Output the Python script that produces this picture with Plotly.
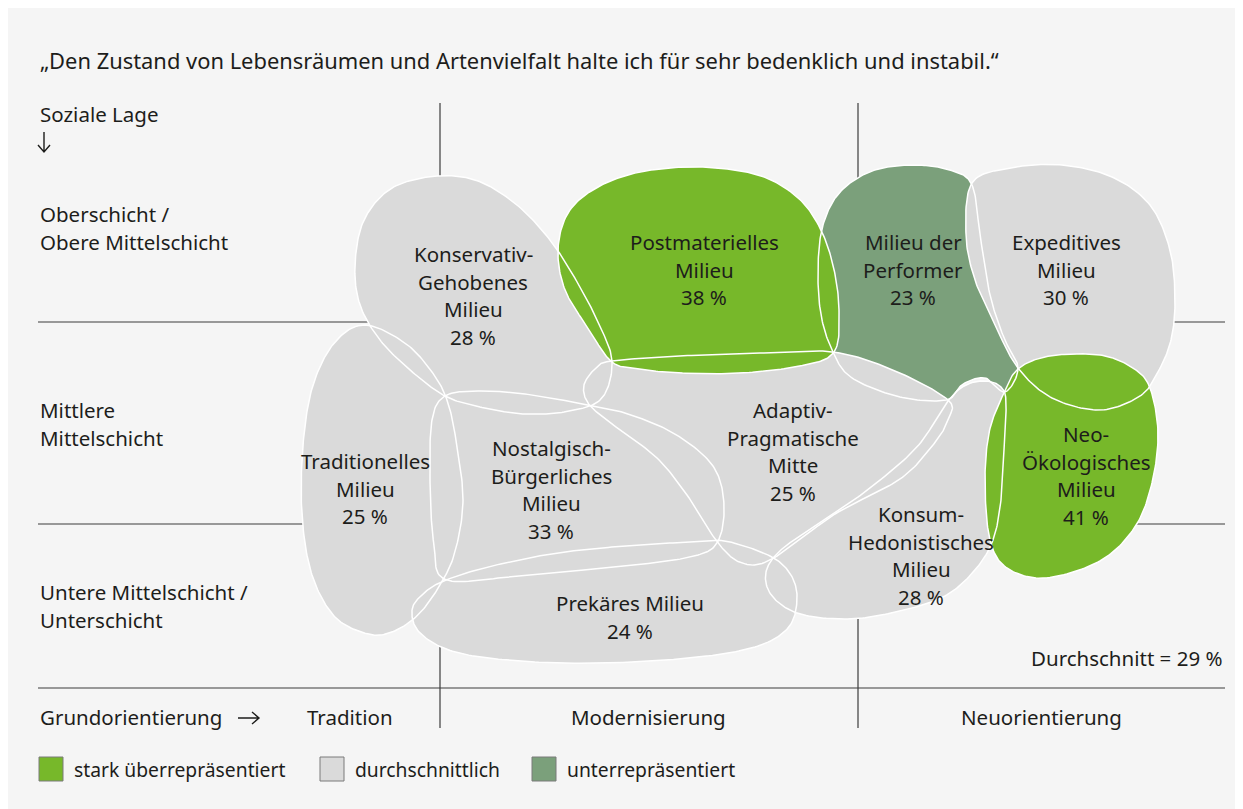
import numpy as np
import plotly.graph_objects as go

# Data
milieus = ["Konservativ-\nGehobenes\nMilieu", "Traditionelles\nMilieu", "Nostalgisch-\nBürgerliches\nMilieu",
           "Prekäres Milieu", "Adaptiv-\nPragmatische\nMitte", "Konsum-\nHedonistisches\nMilieu",
           "Milieu der\nPerformer", "Expeditives\nMilieu", "Postmaterielles\nMilieu", "Neo-\nÖkologisches\nMilieu"]
shares = [28, 25, 33, 24, 25, 28, 23, 30, 38, 41]
groups = ["avg", "avg", "avg", "avg", "avg", "avg", "under", "avg", "over", "over"]
average = 29

social_classes = ["Oberschicht /\nObere Mittelschicht", "Mittlere\nMittelschicht", "Untere Mittelschicht /\nUnterschicht"]
orientations = ["Tradition", "Modernisierung", "Neuorientierung"]
legend_labels = {"over": "stark überrepräsentiert", "avg": "durchschnittlich", "under": "unterrepräsentiert"}
title = "„Den Zustand von Lebensräumen und Artenvielfalt halte ich für sehr bedenklich und instabil.“"

colors = {"over": "#77b82a", "avg": "#dadada", "under": "#7ba07b"}
FONT = "Noto Sans"
TXT = "#1d1d1b"

# Blob outlines (control points on the map, pixel-like coordinates) and label anchors
outlines = {
    "Konservativ-\nGehobenes\nMilieu": [(437, 176), (478, 181), (517, 205), (550, 240), (576, 280), (598, 322), (612, 361),
                                         (602, 398), (570, 411), (525, 414), (480, 407), (445, 396), (410, 370), (380, 340),
                                         (360, 305), (355, 265), (364, 220), (392, 188)],
    "Traditionelles\nMilieu": [(365, 325), (405, 343), (432, 372), (447, 400), (456, 440), (463, 500), (455, 552),
                               (440, 585), (418, 615), (392, 632), (368, 634), (335, 617), (312, 575), (302, 515),
                               (303, 445), (313, 385), (335, 342)],
    "Nostalgisch-\nBürgerliches\nMilieu": [(445, 396), (478, 391), (525, 394), (588, 405), (628, 414), (675, 434),
                                           (713, 466), (724, 505), (717, 543), (690, 557), (625, 566), (525, 575),
                                           (447, 580), (434, 545), (430, 480), (432, 420)],
    "Prekäres Milieu": [(412, 610), (424, 593), (446, 580), (492, 566), (557, 553), (625, 546), (690, 542), (725, 541),
                        (770, 556), (791, 575), (797, 600), (788, 628), (755, 647), (690, 658), (600, 663), (520, 661),
                        (455, 652), (420, 633)],
    "Adaptiv-\nPragmatische\nMitte": [(612, 361), (680, 356), (760, 353), (833, 352), (893, 370), (947, 399), (949, 418),
                                      (933, 445), (900, 479), (835, 514), (772, 559), (742, 563), (718, 543), (692, 502),
                                      (657, 458), (608, 421), (588, 403), (584, 385), (596, 368)],
    "Konsum-\nHedonistisches\nMilieu": [(948, 401), (966, 385), (986, 381), (1001, 387), (1006, 402), (1004, 450),
                                        (1001, 500), (993, 540), (975, 570), (945, 596), (900, 611), (850, 619),
                                        (800, 614), (772, 596), (766, 572), (782, 549), (822, 522), (870, 488),
                                        (917, 447)],
    "Milieu der\nPerformer": [(833, 352), (821, 315), (818, 268), (823, 225), (840, 192), (872, 171), (912, 165),
                              (950, 170), (972, 185), (980, 235), (990, 295), (1004, 338), (1018, 368), (1005, 392),
                              (985, 378), (963, 384), (946, 400), (900, 397), (852, 378)],
    "Expeditives\nMilieu": [(972, 183), (1010, 168), (1062, 165), (1112, 177), (1150, 205), (1170, 250), (1175, 300),
                            (1171, 340), (1158, 372), (1140, 396), (1100, 410), (1052, 398), (1018, 368), (995, 325),
                            (975, 280), (966, 235)],
    "Postmaterielles\nMilieu": [(612, 362), (588, 328), (565, 290), (558, 250), (568, 213), (596, 188), (640, 172),
                                (700, 167), (758, 175), (796, 196), (819, 226), (833, 265), (839, 310), (834, 352),
                                (800, 366), (740, 373), (680, 373), (640, 369)],
    "Neo-\nÖkologisches\nMilieu": [(1018, 369), (1050, 356), (1100, 355), (1133, 368), (1150, 388), (1158, 433),
                                   (1152, 483), (1135, 527), (1100, 561), (1045, 578), (1007, 568), (990, 540),
                                   (985, 483), (989, 433), (1002, 397)],
}
label_pos = {
    "Konservativ-\nGehobenes\nMilieu": (473, 254), "Traditionelles\nMilieu": (365, 461),
    "Nostalgisch-\nBürgerliches\nMilieu": (551, 448), "Prekäres Milieu": (630, 603),
    "Adaptiv-\nPragmatische\nMitte": (793, 410), "Konsum-\nHedonistisches\nMilieu": (921, 514),
    "Milieu der\nPerformer": (913, 242), "Expeditives\nMilieu": (1066, 242),
    "Postmaterielles\nMilieu": (704, 242), "Neo-\nÖkologisches\nMilieu": (1086, 434),
}
draw_order = ["Milieu der\nPerformer", "Konservativ-\nGehobenes\nMilieu", "Traditionelles\nMilieu",
              "Nostalgisch-\nBürgerliches\nMilieu", "Prekäres Milieu", "Adaptiv-\nPragmatische\nMitte",
              "Konsum-\nHedonistisches\nMilieu", "Expeditives\nMilieu", "Postmaterielles\nMilieu",
              "Neo-\nÖkologisches\nMilieu"]


def smooth(pts, n=20):
    # closed Catmull-Rom curve through the control points
    P = np.array(pts, float)
    m = len(P)
    t = np.linspace(0, 1, n, endpoint=False)[:, None]
    segs = []
    for i in range(m):
        p0, p1, p2, p3 = P[(i - 1) % m], P[i], P[(i + 1) % m], P[(i + 2) % m]
        segs.append(0.5 * (2 * p1 + (p2 - p0) * t + (2 * p0 - 5 * p1 + 4 * p2 - p3) * t ** 2
                           + (3 * p1 - p0 - 3 * p2 + p3) * t ** 3))
    out = np.vstack(segs)
    return np.vstack([out, out[:1]])


fig = go.Figure()

# fills first, outlines on top
curves = {k: smooth(outlines[k]) for k in draw_order}
for k in draw_order:
    c = curves[k]
    g = groups[milieus.index(k)]
    fig.add_trace(go.Scatter(x=c[:, 0], y=c[:, 1], mode="lines", fill="toself", fillcolor=colors[g],
                             line=dict(width=0, color=colors[g]), hoverinfo="skip", showlegend=False))
for k in draw_order:
    c = curves[k]
    fig.add_trace(go.Scatter(x=c[:, 0], y=c[:, 1], mode="lines", line=dict(width=1.5, color="white"),
                             hoverinfo="skip", showlegend=False))

annotations = []


def add_lines(text, x, y, step=27.5, anchor="center", size=20.5):
    for i, line in enumerate(text.split("\n")):
        annotations.append(dict(x=x, y=y + i * step, text=line, showarrow=False, xanchor=anchor, yanchor="middle",
                                font=dict(family=FONT, size=size, color=TXT)))


for name, val in zip(milieus, shares):
    x, y = label_pos[name]
    add_lines(name + "\n" + f"{val} %", x, y)

add_lines(title, 38, 60, anchor="left", size=21.9)
add_lines("Soziale Lage", 38, 114, anchor="left")
for txt, y in zip(social_classes, [214, 410, 592]):
    add_lines(txt, 38, y, step=28, anchor="left")
add_lines("Grundorientierung", 38, 717, anchor="left")
for txt, x in zip(orientations, [350, 648, 1041]):
    add_lines(txt, x, 717)
add_lines(f"Durchschnitt = {average} %", 1225, 658, anchor="right")

shapes = [dict(type="rect", x0=6, x1=1243, y0=7, y1=809, fillcolor="#f5f5f5", line_width=0, layer="below")]
grid = dict(color="#3c3c3c", width=1.2)
for x in [440, 858]:
    shapes.append(dict(type="line", x0=x, x1=x, y0=103, y1=728, line=grid, layer="below"))
for y, x1 in [(322, 1225), (524, 1225), (688, 1225)]:
    shapes.append(dict(type="line", x0=38, x1=x1, y0=y, y1=y, line=grid, layer="below"))

# thin arrow glyphs next to the axis titles
arrow = dict(color=TXT, width=1.4)
shapes.append(dict(type="path", path="M 44 132 L 44 152 M 38 145 L 44 152 L 50 145", line=arrow))
shapes.append(dict(type="path", path="M 238 718 L 259 718 M 252 712 L 259 718 L 252 724", line=arrow))

# legend
for g, x in zip(["over", "avg", "under"], [39, 320, 532]):
    shapes.append(dict(type="rect", x0=x, x1=x + 24, y0=757, y1=781, fillcolor=colors[g],
                       line=dict(color="#7a7a7a", width=1)))
    add_lines(legend_labels[g], x + 33, 769, anchor="left", size=19.3)

# the page body has an 8 px margin, so the figure is 8 px smaller and the ranges start at 8
fig.update_layout(
    width=1235, height=801, margin=dict(l=0, r=0, t=0, b=0),
    paper_bgcolor="white", plot_bgcolor="white",
    xaxis=dict(range=[8, 1243], visible=False, fixedrange=True),
    yaxis=dict(range=[809, 8], visible=False, fixedrange=True),
    shapes=shapes, annotations=annotations, showlegend=False,
)

fig.write_html("out.html")
